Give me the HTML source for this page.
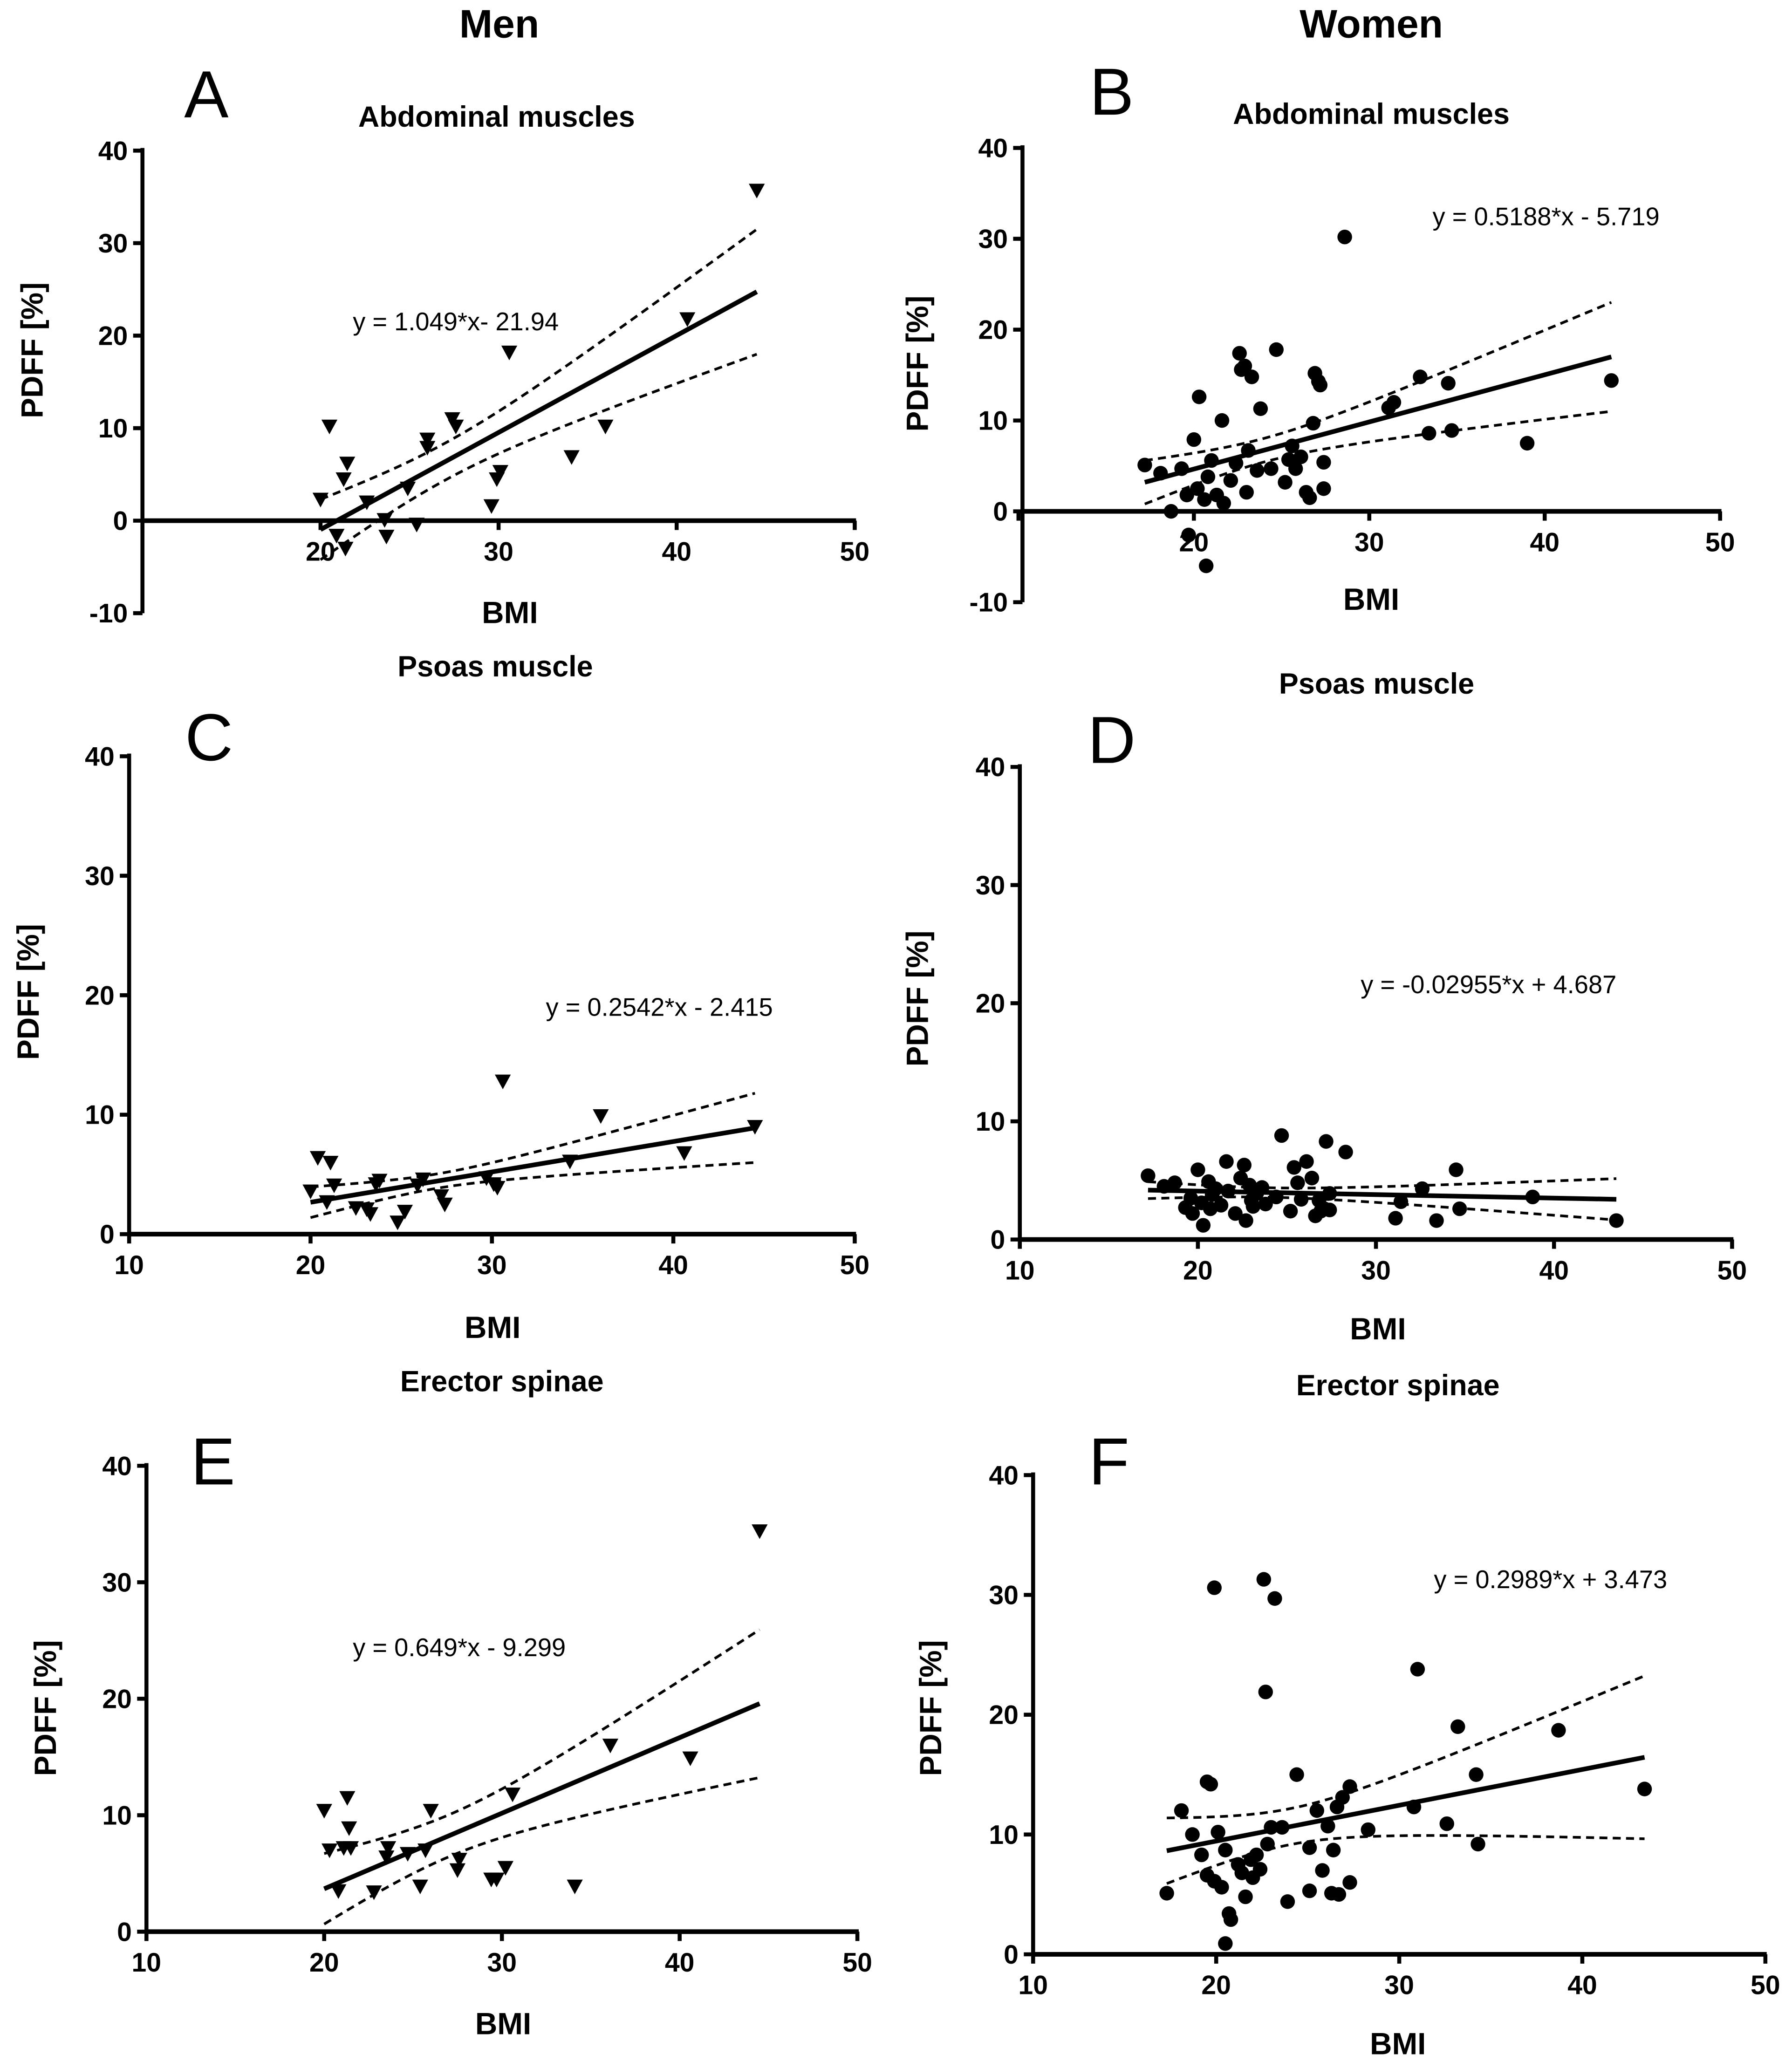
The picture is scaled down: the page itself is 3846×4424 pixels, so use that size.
<!DOCTYPE html>
<html><head><meta charset="utf-8">
<style>
html,body{margin:0;padding:0;background:#fff;}
svg{display:block;}
text{font-family:"Liberation Sans",sans-serif;fill:#000;}
</style></head>
<body>
<svg id="chart" width="3846" height="4424" viewBox="0 0 1346 1548" xmlns="http://www.w3.org/2000/svg">
<text x="375" y="28" font-size="30" font-weight="bold" text-anchor="middle">Men</text>
<text x="1030" y="28" font-size="30" font-weight="bold" text-anchor="middle">Women</text>
</svg>
<script>
// ---- data ----
const bmiA=[20.0,20.5,20.9,21.3,21.5,21.4,22.6,23.6,23.7,24.9,25.4,26,26,27.4,27.6,29.6,29.9,30.1,30.6,34.1,36,40.6,44.5];
const pdffA=[2.3,10.2,-1.6,4.5,6.2,-3,2,0.1,-1.7,3.5,-0.4,8.8,7.9,11,10.2,1.6,4.5,5.3,18.2,6.9,10.2,21.8,35.7];
const bmiB=[17.2,18.1,18.7,19.3,19.6,19.7,20,20.2,20.3,20.6,20.7,20.8,21,21.3,21.6,21.7,22.1,22.4,22.6,22.7,22.9,23,23.1,23.3,23.6,23.8,24.4,24.7,25.2,25.4,25.6,25.8,26.1,26.4,26.6,26.8,26.9,27.1,27.2,27.4,27.4,28.6,31.1,31.4,32.9,33.4,34.5,34.7,39,43.8];
const pdffB=[5.1,4.2,0,4.7,1.8,-2.6,7.9,2.5,12.6,1.3,-6,3.8,5.6,1.8,10,0.9,3.4,5.3,17.4,15.6,16,2.1,6.7,14.8,4.5,11.3,4.7,17.8,3.2,5.7,7.2,4.7,6,2.1,1.5,9.7,15.2,14.3,13.9,2.5,5.4,30.2,11.4,12,14.8,8.6,14.1,8.9,7.5,14.4];
const bmiC=[20,20.4,20.9,21.1,21.3,22.5,23.1,23.6,23.8,23.3,24.8,25.2,25.9,26.2,27.2,27.4,29.7,30.1,30.3,30.6,34.3,36,40.6,44.5];
const pdffC=[3.6,6.4,2.7,6.0,4.1,2.2,2.1,4.2,4.5,1.7,1.0,1.9,4.1,4.6,3.2,2.5,4.7,4.2,3.9,12.8,6.1,9.9,6.8,9.0];
const bmiD=[17.2,18.1,18.7,19.3,19.6,19.7,20,20.2,20.3,20.6,20.7,20.8,21,21.3,21.6,21.7,22.1,22.4,22.6,22.7,22.9,23,23.1,23.3,23.6,23.8,24.4,24.7,25.2,25.4,25.6,25.8,26.1,26.4,26.6,26.8,26.9,27.1,27.2,27.4,27.4,28.3,31.1,31.4,32.6,33.4,34.5,34.7,38.8,43.5];
const pdffD=[5.4,4.5,4.8,2.7,3.5,2.2,5.9,3.1,1.2,4.9,2.6,3.8,4.3,2.9,6.6,4.1,2.2,5.2,6.3,1.6,4.6,3.3,2.8,3.9,4.4,3.0,3.6,8.8,2.4,6.1,4.8,3.4,6.6,5.2,2.0,3.3,2.4,2.6,8.3,3.9,2.5,7.4,1.8,3.2,4.3,1.6,5.9,2.6,3.6,1.6];
const bmiE=[20,20.3,20.8,21.1,21.3,21.4,21.5,22.8,23.5,23.6,24.7,25.4,25.7,26,27.5,27.6,29.4,29.7,30.2,30.6,34.1,36.1,40.6,44.5];
const pdffE=[10.4,7,3.5,7.2,11.5,8.9,7.2,3.4,6.4,7.2,6.7,3.9,7,10.4,5.3,6.2,4.5,4.5,5.5,11.8,3.9,16,14.9,34.4];
const bmiF=[17.3,18.1,18.7,19.2,19.5,19.7,19.5,19.9,20.1,19.9,20.3,20.5,20.5,20.7,20.8,21.2,21.4,21.6,21.9,22,22.2,22.4,22.6,22.7,22.8,23,23.2,23.6,23.9,24.4,25.1,25.1,25.5,25.8,26.1,26.3,26.4,26.6,26.9,26.7,27.3,27.3,28.3,30.8,31,32.6,33.2,34.2,34.3,38.7,43.4];
const pdffF=[5.1,12,10,8.3,14.4,14.2,6.6,30.6,10.2,6.1,5.6,8.7,0.9,3.4,2.9,7.5,6.8,4.8,7.9,6.4,8.3,7.1,31.3,21.9,9.2,10.6,29.7,10.6,4.4,15,8.9,5.3,12,7,10.7,5.1,8.7,12.3,13.1,5,6,14,10.4,12.3,23.8,10.9,19,15,9.2,18.7,13.8];
const slopes=[1.049,0.5188,0.2542,-0.02955,0.649,0.2989];
const intercepts=[-21.94,-5.719,-2.415,4.687,-9.299,3.473];
const equations=["y = 1.049*x- 21.94","y = 0.5188*x - 5.719","y = 0.2542*x - 2.415","y = -0.02955*x + 4.687","y = 0.649*x - 9.299","y = 0.2989*x + 3.473"];
const xTicks=[10,20,30,40,50];
const yTicksAB=[-10,0,10,20,30,40];
const yTicksCF=[0,10,20,30,40];

const NS="http://www.w3.org/2000/svg";
const svg=document.getElementById('chart');
function mk(tag,attrs,parent){const e=document.createElementNS(NS,tag);for(const k in attrs)e.setAttribute(k,attrs[k]);(parent||svg).appendChild(e);return e;}

const panels=[
 {id:'a',letter:'A',lx:155,ly:88,title:'Abdominal muscles',tx:373,ty:95,ax:107,x10:107,x50:642,y0:391,y40:113,ymin:-10,yt:yTicksAB,axisAtZero:true,xs:bmiA,ys:pdffA,tri:true,ci:[27,2,6.75],eqx:265,eqy:248,ylx:32,yly:263,bx:383,by:468,showX10:false},
 {id:'b',letter:'B',lx:835,ly:86,title:'Abdominal muscles',tx:1030,ty:93,ax:768,x10:765,x50:1292,y0:384,y40:111,ymin:-10,yt:yTicksAB,axisAtZero:true,xs:bmiB,ys:pdffB,tri:false,ci:[24,1.3,6],eqx:1076,eqy:169,ylx:697,yly:273,bx:1030,by:458,showX10:false},
 {id:'c',letter:'C',lx:157,ly:571,title:'Psoas muscle',tx:372,ty:508,ax:97,x10:97,x50:642,y0:927,y40:568,ymin:0,yt:yTicksCF,axisAtZero:false,xs:bmiC,ys:pdffC,tri:true,ci:[27,0.6,2.9],eqx:410,eqy:763,ylx:29,yly:745,bx:370,by:1005,showX10:true},
 {id:'d',letter:'D',lx:835,ly:573,title:'Psoas muscle',tx:1034,ty:521,ax:766,x10:766,x50:1301,y0:931,y40:576,ymin:0,yt:yTicksCF,axisAtZero:false,xs:bmiD,ys:pdffD,tri:false,ci:[24,0.4,1.75],eqx:1022,eqy:746,ylx:697,yly:750,bx:1035,by:1006,showX10:true},
 {id:'e',letter:'E',lx:160,ly:1115,title:'Erector spinae',tx:377,ty:1045,ax:110,x10:110,x50:644,y0:1451,y40:1101,ymin:0,yt:yTicksCF,axisAtZero:false,xs:bmiE,ys:pdffE,tri:true,ci:[27,1.8,6.35],eqx:265,eqy:1244,ylx:42,yly:1283,bx:378,by:1528,showX10:true},
 {id:'f',letter:'F',lx:833,ly:1115,title:'Erector spinae',tx:1050,ty:1048,ax:776,x10:776,x50:1326,y0:1468,y40:1108,ymin:0,yt:yTicksCF,axisAtZero:false,xs:bmiF,ys:pdffF,tri:false,ci:[24,1.5,6.8],eqx:1077,eqy:1193,ylx:707,yly:1283,bx:1050,by:1543,showX10:true}
];

panels.forEach((p,i)=>{
 const g=mk('g',{});
 
 
 const X=v=>p.x10+(v-10)*(p.x50-p.x10)/40;
 const Y=v=>p.y0-(v)*(p.y0-p.y40)/40;
 let t=mk('text',{x:p.lx,y:p.ly,'font-size':50,'text-anchor':'middle'},g);t.textContent=p.letter;
 
 t=mk('text',{x:p.tx,y:p.ty,'font-size':22,'font-weight':'bold','text-anchor':'middle'},g);t.textContent=p.title;
 
 // y axis
 const yb=Y(p.ymin), xb=p.axisAtZero?Y(0):p.y0;
 let l=mk('line',{x1:p.ax,y1:p.y40-2,x2:p.ax,y2:p.axisAtZero?yb:p.y0,stroke:'#000','stroke-width':3},g);
 
 p.yt.forEach(v=>{
  const tk=mk('line',{x1:p.ax-7,y1:Y(v),x2:p.ax,y2:Y(v),stroke:'#000','stroke-width':3},g);
  
  const tl=mk('text',{x:p.ax-11,y:Y(v)+7,'font-size':20,'font-weight':'bold','text-anchor':'end'},g);tl.textContent=v;
  
 });
 // x axis
 l=mk('line',{x1:p.ax-1,y1:xb,x2:p.x50+1,y2:xb,stroke:'#000','stroke-width':3.5},g);
 
 xTicks.forEach(v=>{
  const tk=mk('line',{x1:X(v),y1:xb,x2:X(v),y2:xb+7,stroke:'#000','stroke-width':3},g);
  
  if(v===10&&!p.showX10)return;
  const tl=mk('text',{x:X(v),y:xb+30,'font-size':20,'font-weight':'bold','text-anchor':'middle'},g);tl.textContent=v;
  
 });
 t=mk('text',{x:p.bx,y:p.by,'font-size':23,'font-weight':'bold','text-anchor':'middle'},g);t.textContent='BMI';
 
 t=mk('text',{x:p.ylx,y:p.yly,'font-size':23,'font-weight':'bold','text-anchor':'middle',transform:`rotate(-90 ${p.ylx} ${p.yly})`},g);t.textContent='PDFF  [%]';
 
 // points
 p.xs.forEach((xv,j)=>{
  const cx=X(xv),cy=Y(p.ys[j]);let m;
  if(p.tri)m=mk('polygon',{points:`${cx-6},${cy-5} ${cx+6},${cy-5} ${cx},${cy+6}`,fill:'#000'},g);
  else m=mk('circle',{cx:cx,cy:cy,r:5.5,fill:'#000'},g);
  
 });
 // regression + CI
 const xmin=Math.min(...p.xs),xmax=Math.max(...p.xs);
 const f=x=>slopes[i]*x+intercepts[i];
 const [m0,h0,hE]=p.ci; const k=(hE*hE-h0*h0)/Math.pow(xmax-m0,2);
 const hw=x=>Math.sqrt(h0*h0+k*(x-m0)*(x-m0));
 let up='',lo='';
 for(let s=0;s<=40;s++){const x=xmin+(xmax-xmin)*s/40;up+=(s?'L':'M')+X(x)+','+Y(f(x)+hw(x));lo+=(s?'L':'M')+X(x)+','+Y(f(x)-hw(x));}
 const pu=mk('path',{d:up,fill:'none',stroke:'#000','stroke-width':2,'stroke-dasharray':'6,4'},g);
 
 const pl=mk('path',{d:lo,fill:'none',stroke:'#000','stroke-width':2,'stroke-dasharray':'6,4'},g);
 
 const rl=mk('line',{x1:X(xmin),y1:Y(f(xmin)),x2:X(xmax),y2:Y(f(xmax)),stroke:'#000','stroke-width':3.5},g);
 
 t=mk('text',{x:p.eqx,y:p.eqy,'font-size':19},g);t.textContent=equations[i];
 
});
</script>
</body></html>
